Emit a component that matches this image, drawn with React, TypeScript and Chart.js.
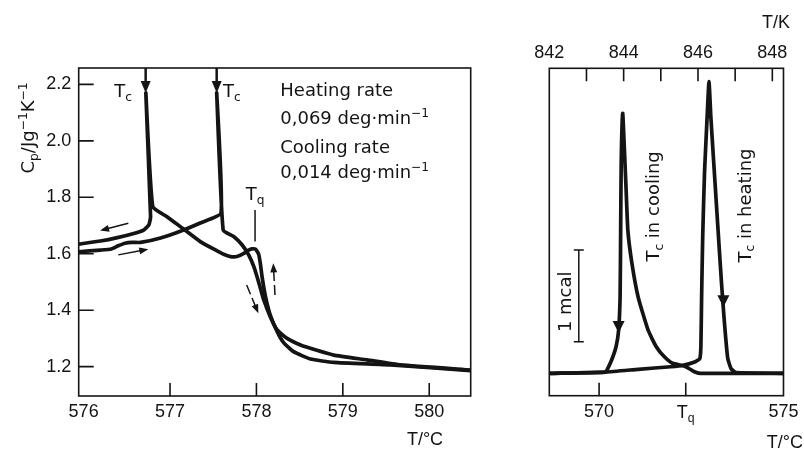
import React, { useEffect, useRef } from 'react';
import { Chart, registerables } from 'chart.js';

Chart.register(...registerables);

// ---------------- Left panel data (Cp vs T/°C) ----------------
const heatT = [575.943, 576.195, 576.32, 576.40, 576.48, 576.56, 576.66, 576.89, 577.12, 577.35, 577.59, 577.54, 577.615, 577.74, 577.835, 577.91, 577.97, 578.03, 578.085, 578.16, 578.24, 578.355, 578.51, 578.70, 578.895, 579.28, 579.67, 580.48];
const heatCp = [1.607, 1.613, 1.617, 1.628, 1.637, 1.640, 1.640, 1.656, 1.680, 1.709, 1.744, 2.17, 1.684, 1.660, 1.631, 1.596, 1.554, 1.495, 1.436, 1.377, 1.330, 1.300, 1.277, 1.258, 1.241, 1.224, 1.206, 1.188];

const coolT = [580.48, 579.55, 578.895, 578.625, 578.43, 578.315, 578.24, 578.16, 578.105, 578.065, 578.045, 578.025, 577.99, 577.95, 577.91, 577.855, 577.775, 577.70, 577.62, 577.545, 577.35, 577.12, 576.965, 576.80, 576.72, 576.775, 576.755, 576.695, 576.58, 576.39, 576.195, 575.943];
const coolCp = [1.186, 1.206, 1.215, 1.227, 1.253, 1.285, 1.324, 1.383, 1.448, 1.519, 1.566, 1.599, 1.616, 1.617, 1.613, 1.601, 1.590, 1.590, 1.598, 1.610, 1.643, 1.696, 1.731, 1.767, 2.17, 1.731, 1.702, 1.684, 1.672, 1.657, 1.645, 1.634];

const leftXTicks = [576, 577, 578, 579, 580];
const leftXTickLabels = ['576', '577', '578', '579', '580'];
const leftXMarks = [577, 578, 579, 580];
const leftYTicks = [1.2, 1.4, 1.6, 1.8, 2.0, 2.2];
const leftYTickLabels = ['1.2', '1.4', '1.6', '1.8', '2.0', '2.2'];
const leftTcT = [576.718, 577.54];
const leftTq = 577.984;

// ---------------- Right panel data (DSC heat flow, mcal) ----------------
const dscHeatT = [568.65, 570.18, 571.06, 571.95, 572.30, 572.61, 572.73, 572.76, 572.78, 572.81, 572.86, 572.93, 572.98, 573.03, 573.10, 573.18, 573.26, 573.32, 573.38, 573.43, 573.49, 573.58, 573.72, 575.0];
const dscHeatQ = [0, 0.014, 0.044, 0.072, 0.09, 0.127, 0.16, 0.29, 0.835, 1.5, 2.2, 2.8, 3.18, 2.80, 2.35, 1.85, 1.35, 0.98, 0.65, 0.40, 0.16, 0.05, 0.007, 0];

const dscCoolT = [575.0, 572.74, 572.57, 572.43, 572.30, 571.99, 571.77, 571.55, 571.33, 571.06, 570.89, 570.78, 570.73, 570.68, 570.64, 570.60, 570.585, 570.57, 570.53, 570.46, 570.34, 570.22, 570.18, 568.65];
const dscCoolQ = [0, 0, 0.02, 0.055, 0.08, 0.11, 0.18, 0.29, 0.47, 0.83, 1.20, 1.56, 2.03, 2.5, 2.835, 2.3, 1.56, 0.84, 0.47, 0.29, 0.145, 0.04, 0.014, 0];

const rightTq = 572.35;
const rightXTicks = [570, rightTq, 575];
const rightXTickLabels = ['570', 'Tq', '575'];
const rightXMarks = [570, rightTq];
const kTicks = [842, 844, 846, 848];
const kTickLabels = ['842', '844', '846', '848'];
const kMarks = [843, 844, 845, 846, 847, 848];
const scaleBarT = 569.45;
const scaleBarLow = 0.345;
const scaleBarHigh = 1.345;

// ---------------- styling ----------------
const INK = '#141414';
const SANS = "'Liberation Sans', Arial, sans-serif";
const DEJA = "'DejaVu Sans', sans-serif";

type Run = { t: string; s?: 'sub' | 'sup' };

function rich(
  ctx: CanvasRenderingContext2D,
  runs: Run[],
  x: number,
  y: number,
  size: number,
  family: string,
  align: 'left' | 'center' | 'right',
  rot = 0,
  middle = false
) {
  ctx.save();
  ctx.translate(x, y);
  if (rot) ctx.rotate(rot);
  const fs = (r: Run) => (r.s ? size * 0.68 : size);
  let w = 0;
  for (const r of runs) {
    ctx.font = `${fs(r)}px ${family}`;
    w += ctx.measureText(r.t).width;
  }
  let cx = align === 'left' ? 0 : align === 'center' ? -w / 2 : -w;
  const by = middle ? size * 0.36 : 0;
  ctx.textAlign = 'left';
  ctx.textBaseline = 'alphabetic';
  ctx.fillStyle = INK;
  for (const r of runs) {
    ctx.font = `${fs(r)}px ${family}`;
    const dy = r.s === 'sub' ? size * 0.22 : r.s === 'sup' ? -size * 0.42 : 0;
    ctx.fillText(r.t, cx, by + dy);
    cx += ctx.measureText(r.t).width;
  }
  ctx.restore();
}

function triDown(ctx: CanvasRenderingContext2D, x: number, yTop: number, w: number, h: number) {
  ctx.beginPath();
  ctx.moveTo(x - w / 2, yTop);
  ctx.lineTo(x + w / 2, yTop);
  ctx.lineTo(x, yTop + h);
  ctx.closePath();
  ctx.fill();
}

function arrow(ctx: CanvasRenderingContext2D, x1: number, y1: number, x2: number, y2: number, dashed: boolean) {
  const ang = Math.atan2(y2 - y1, x2 - x1);
  const hl = 9, hw = 3.5;
  ctx.save();
  ctx.lineWidth = 1.5;
  if (dashed) ctx.setLineDash([10, 4]);
  ctx.beginPath();
  ctx.moveTo(x1, y1);
  ctx.lineTo(x2 - Math.cos(ang) * hl * 0.8, y2 - Math.sin(ang) * hl * 0.8);
  ctx.stroke();
  ctx.setLineDash([]);
  ctx.beginPath();
  ctx.moveTo(x2, y2);
  ctx.lineTo(x2 - Math.cos(ang) * hl - Math.sin(ang) * hw, y2 - Math.sin(ang) * hl + Math.cos(ang) * hw);
  ctx.lineTo(x2 - Math.cos(ang) * hl + Math.sin(ang) * hw, y2 - Math.sin(ang) * hl - Math.cos(ang) * hw);
  ctx.closePath();
  ctx.fill();
  ctx.restore();
}

// annotation anchors (data coordinates)
const leftArrows: [number, number, number, number, boolean][] = [
  [576.517, 1.708, 576.19, 1.682, false],
  [576.401, 1.596, 576.749, 1.616, false],
  [577.887, 1.489, 578.022, 1.389, true],
  [578.215, 1.454, 578.195, 1.566, true],
];
const legendT = 578.276;
const legendCp = [2.159, 2.058, 1.957, 1.868];

const leftDecor = {
  id: 'leftDecor',
  afterDraw(chart: any) {
    const { ctx, chartArea: ca, scales } = chart;
    const X = scales.x, Y = scales.y;
    ctx.save();
    ctx.strokeStyle = INK;
    ctx.fillStyle = INK;
    ctx.lineWidth = 1.6;
    ctx.strokeRect(ca.left, ca.top, ca.right - ca.left, ca.bottom - ca.top);
    ctx.beginPath();
    for (const v of leftXMarks) {
      const p = X.getPixelForValue(v);
      ctx.moveTo(p, ca.bottom);
      ctx.lineTo(p, ca.bottom - 13);
    }
    for (const v of leftYTicks) {
      const p = Y.getPixelForValue(v);
      ctx.moveTo(ca.left, p);
      ctx.lineTo(ca.left + 15, p);
    }
    ctx.stroke();

    // Tc markers
    for (const t of leftTcT) {
      const p = X.getPixelForValue(t);
      ctx.lineWidth = 2.5;
      ctx.beginPath();
      ctx.moveTo(p, ca.top);
      ctx.lineTo(p, ca.top + 14);
      ctx.stroke();
      triDown(ctx, p, ca.top + 13, 10, 12);
    }
    const tcY = Y.getPixelForValue(2.155);
    rich(ctx, [{ t: 'T' }, { t: 'c', s: 'sub' }], X.getPixelForValue(576.456), tcY, 18, DEJA, 'center');
    rich(ctx, [{ t: 'T' }, { t: 'c', s: 'sub' }], X.getPixelForValue(577.717), tcY, 18, DEJA, 'center');

    // Tq
    const tqx = X.getPixelForValue(leftTq);
    rich(ctx, [{ t: 'T' }, { t: 'q', s: 'sub' }], tqx, Y.getPixelForValue(1.79), 18, DEJA, 'center');
    ctx.lineWidth = 1.5;
    ctx.beginPath();
    ctx.moveTo(tqx, Y.getPixelForValue(1.755));
    ctx.lineTo(tqx, Y.getPixelForValue(1.643));
    ctx.stroke();

    // legend text
    const lx = X.getPixelForValue(legendT);
    rich(ctx, [{ t: 'Heating rate' }], lx, Y.getPixelForValue(legendCp[0]), 18, DEJA, 'left');
    rich(ctx, [{ t: '0,069 deg·min' }, { t: '−1', s: 'sup' }], lx, Y.getPixelForValue(legendCp[1]), 18, DEJA, 'left');
    rich(ctx, [{ t: 'Cooling rate' }], lx, Y.getPixelForValue(legendCp[2]), 18, DEJA, 'left');
    rich(ctx, [{ t: '0,014 deg·min' }, { t: '−1', s: 'sup' }], lx, Y.getPixelForValue(legendCp[3]), 18, DEJA, 'left');

    // direction arrows
    for (const [a, b, c, d, dash] of leftArrows) {
      arrow(ctx, X.getPixelForValue(a), Y.getPixelForValue(b), X.getPixelForValue(c), Y.getPixelForValue(d), dash);
    }

    // axis titles
    rich(
      ctx,
      [{ t: 'C' }, { t: 'p', s: 'sub' }, { t: '/Jg' }, { t: '−1', s: 'sup' }, { t: 'K' }, { t: '−1', s: 'sup' }],
      28, 128, 18, DEJA, 'center', -Math.PI / 2, true
    );
    rich(ctx, [{ t: 'T/°C' }], 425, 445, 18, SANS, 'center');
    ctx.restore();
  },
};

const rightLabels: { runs: Run[]; t: number; q: number }[] = [
  { runs: [{ t: 'T' }, { t: 'c', s: 'sub' }, { t: ' in cooling' }], t: 571.46, q: 1.82 },
  { runs: [{ t: 'T' }, { t: 'c', s: 'sub' }, { t: ' in heating' }], t: 573.93, q: 1.83 },
  { runs: [{ t: '1 mcal' }], t: 569.07, q: 0.78 },
];
const rightArrowHeads: [number, number][] = [
  [570.53, 0.57],
  [573.37, 0.85],
];

const rightDecor = {
  id: 'rightDecor',
  afterDraw(chart: any) {
    const { ctx, chartArea: ca, scales } = chart;
    const X = scales.x, K = scales.xK, Y = scales.y;
    ctx.save();
    ctx.strokeStyle = INK;
    ctx.fillStyle = INK;
    ctx.lineWidth = 1.6;
    ctx.strokeRect(ca.left, ca.top, ca.right - ca.left, ca.bottom - ca.top);
    ctx.beginPath();
    for (const v of rightXMarks) {
      const p = X.getPixelForValue(v);
      ctx.moveTo(p, ca.bottom);
      ctx.lineTo(p, ca.bottom - 13);
    }
    for (const v of kMarks) {
      const p = K.getPixelForValue(v);
      if (p > ca.right - 1) continue;
      ctx.moveTo(p, ca.top);
      ctx.lineTo(p, ca.top + 13);
    }
    ctx.stroke();

    // Tq tick label
    rich(ctx, [{ t: 'T' }, { t: 'q', s: 'sub' }], X.getPixelForValue(rightTq), ca.bottom + 22.5, 18, SANS, 'center');

    // 1 mcal scale bar
    const sx = X.getPixelForValue(scaleBarT);
    const y1 = Y.getPixelForValue(scaleBarLow), y2 = Y.getPixelForValue(scaleBarHigh);
    ctx.lineWidth = 1.5;
    ctx.beginPath();
    ctx.moveTo(sx, y1); ctx.lineTo(sx, y2);
    ctx.moveTo(sx - 5, y1); ctx.lineTo(sx + 5, y1);
    ctx.moveTo(sx - 5, y2); ctx.lineTo(sx + 5, y2);
    ctx.stroke();

    for (const [t, q] of rightArrowHeads) {
      triDown(ctx, X.getPixelForValue(t), Y.getPixelForValue(q), 12, 12);
    }
    for (const l of rightLabels) {
      rich(ctx, l.runs, X.getPixelForValue(l.t), Y.getPixelForValue(l.q), 18, DEJA, 'center', -Math.PI / 2, true);
    }
    rich(ctx, [{ t: 'T/K' }], 290, 28, 18, SANS, 'right');
    rich(ctx, [{ t: 'T/°C' }], 303, 448, 18, SANS, 'right');
    ctx.restore();
  },
};

const lineStyle = {
  borderColor: INK,
  borderWidth: 3.7,
  pointRadius: 0,
  fill: false,
  tension: 0.15,
  borderJoinStyle: 'round' as const,
  borderCapStyle: 'round' as const,
};

function pts(xs: number[], ys: number[]) {
  return xs.map((x, i) => ({ x, y: ys[i] }));
}

const tickFont = { family: SANS, size: 18 };

function leftConfig(): any {
  return {
    type: 'line',
    data: {
      datasets: [
        { label: 'Heating', data: pts(heatT, heatCp), ...lineStyle },
        { label: 'Cooling', data: pts(coolT, coolCp), ...lineStyle },
      ],
    },
    options: {
      responsive: false,
      animation: false,
      devicePixelRatio: 1,
      layout: { autoPadding: false, padding: { left: 0, top: 68, right: 29.3, bottom: 0 } },
      plugins: { legend: { display: false }, tooltip: { enabled: false } },
      events: [],
      scales: {
        x: {
          type: 'linear',
          position: 'bottom',
          min: 575.943,
          max: 580.48,
          afterBuildTicks: (s: any) => { s.ticks = leftXTicks.map((v) => ({ value: v })); },
          afterFit: (s: any) => { s.height = 59; },
          ticks: {
            autoSkip: false,
            maxRotation: 0,
            padding: 5,
            color: INK,
            font: tickFont,
            callback: (_v: any, i: number) => leftXTickLabels[i],
          },
          grid: { display: false, drawTicks: false },
          border: { display: false },
        },
        y: {
          type: 'linear',
          position: 'left',
          min: 1.096,
          max: 2.258,
          afterBuildTicks: (s: any) => { s.ticks = leftYTicks.map((v) => ({ value: v })); },
          afterFit: (s: any) => { s.width = 78.7; },
          ticks: {
            autoSkip: false,
            padding: 7.5,
            color: INK,
            font: tickFont,
            callback: (_v: any, i: number) => leftYTickLabels[i],
          },
          grid: { display: false, drawTicks: false },
          border: { display: false },
        },
      },
    },
    plugins: [leftDecor],
  };
}

function rightConfig(): any {
  return {
    type: 'line',
    data: {
      datasets: [
        { label: 'Heating', data: pts(dscHeatT, dscHeatQ), xAxisID: 'x', yAxisID: 'y', ...lineStyle },
        { label: 'Cooling', data: pts(dscCoolT, dscCoolQ), xAxisID: 'x', yAxisID: 'y', ...lineStyle },
      ],
    },
    options: {
      responsive: false,
      animation: false,
      devicePixelRatio: 1,
      layout: { autoPadding: false, padding: { left: 49.3, top: 0, right: 15.7, bottom: 0 } },
      plugins: { legend: { display: false }, tooltip: { enabled: false } },
      events: [],
      scales: {
        x: {
          type: 'linear',
          position: 'bottom',
          min: 568.65,
          max: 575,
          afterBuildTicks: (s: any) => { s.ticks = rightXTicks.map((v) => ({ value: v })); },
          afterFit: (s: any) => { s.height = 59.3; },
          ticks: {
            autoSkip: false,
            maxRotation: 0,
            padding: 5.5,
            color: INK,
            font: tickFont,
            callback: (_v: any, i: number) => (rightXTickLabels[i] === 'Tq' ? '' : rightXTickLabels[i]),
          },
          grid: { display: false, drawTicks: false },
          border: { display: false },
        },
        xK: {
          type: 'linear',
          position: 'top',
          min: 842,
          max: 848.3,
          afterBuildTicks: (s: any) => { s.ticks = kTicks.map((v) => ({ value: v })); },
          afterFit: (s: any) => { s.height = 68.3; },
          ticks: {
            autoSkip: false,
            maxRotation: 0,
            padding: 4.5,
            color: INK,
            font: tickFont,
            callback: (_v: any, i: number) => kTickLabels[i],
          },
          grid: { display: false, drawTicks: false },
          border: { display: false },
        },
        y: {
          type: 'linear',
          display: false,
          min: -0.244,
          max: 3.326,
        },
      },
    },
    plugins: [rightDecor],
  };
}

export default function App() {
  const leftRef = useRef<HTMLCanvasElement>(null);
  const rightRef = useRef<HTMLCanvasElement>(null);
  useEffect(() => {
    const c1 = new Chart(leftRef.current as HTMLCanvasElement, leftConfig());
    const c2 = new Chart(rightRef.current as HTMLCanvasElement, rightConfig());
    return () => {
      c1.destroy();
      c2.destroy();
    };
  }, []);
  return (
    <div style={{ position: 'absolute', left: 0, top: 0, width: 804, height: 455, background: '#fff' }}>
      <div style={{ position: 'absolute', left: 0, top: 0, width: 500, height: 455 }}>
        <canvas ref={leftRef} width={500} height={455} />
      </div>
      <div style={{ position: 'absolute', left: 500, top: 0, width: 304, height: 455 }}>
        <canvas ref={rightRef} width={304} height={455} />
      </div>
    </div>
  );
}
